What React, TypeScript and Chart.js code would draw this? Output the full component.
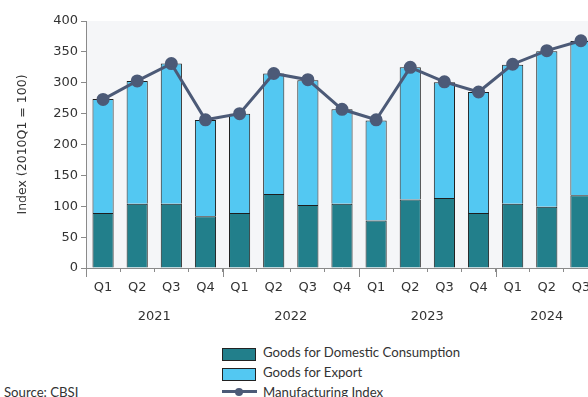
import React, { useEffect, useRef } from "react";
import { Chart, registerables } from "chart.js";

Chart.register(...registerables);

const quarters = ["Q1", "Q2", "Q3", "Q4", "Q1", "Q2", "Q3", "Q4", "Q1", "Q2", "Q3", "Q4", "Q1", "Q2", "Q3"];
const years = ["2021", "2022", "2023", "2024"];
const domestic = [89, 104, 104, 84, 89, 120, 102, 104, 77, 111, 113.5, 89, 104, 99, 118];
const exportGoods = [184.5, 199, 227, 155.5, 161, 195, 202, 153, 162, 214, 187.5, 196, 225, 252, 249.5];
const manufacturing = [273, 303, 331, 240, 250, 315, 305, 257, 240, 325, 301.5, 285, 330, 352, 368];
const yTicks = [0, 50, 100, 150, 200, 250, 300, 350, 400];

const C_DOM = "#227f8b";
const C_EXP = "#53c8f2";
const C_LINE = "#4c5a77";
const TXT = "#333333";
const AXIS = "#8a8a8a";
const FONT = "'DejaVu Sans', Verdana, sans-serif";
const LFONT = "Lato, 'Open Sans', sans-serif";

const decor = {
  id: "decor",
  beforeDraw(chart: any) {
    const { ctx, chartArea } = chart;
    ctx.save();
    ctx.fillStyle = "#f5f6f8";
    ctx.fillRect(chartArea.left, chartArea.top, chartArea.right - chartArea.left, chartArea.bottom - chartArea.top);
    ctx.restore();
  },
  afterDraw(chart: any) {
    const { ctx, chartArea } = chart;
    const xs = chart.scales.x;
    const n = quarters.length;
    const cw = (chartArea.right - chartArea.left) / n;
    ctx.save();
    ctx.fillStyle = TXT;
    ctx.font = "13px " + FONT;
    ctx.textAlign = "center";
    ctx.textBaseline = "middle";
    ctx.strokeStyle = AXIS;
    ctx.lineWidth = 1;
    years.forEach((y, g) => {
      const first = g * 4;
      const last = Math.min(g * 4 + 3, n - 1);
      const cx = (xs.getPixelForValue(first) + xs.getPixelForValue(last)) / 2;
      ctx.fillText(y, cx, 317);
      const bx = Math.round(xs.getPixelForValue(first) - cw / 2) + 0.5;
      ctx.beginPath();
      ctx.moveTo(bx, chartArea.bottom);
      ctx.lineTo(bx, chartArea.bottom + 9);
      ctx.stroke();
    });
    ctx.restore();
  },
};

export default function App() {
  const ref = useRef<HTMLCanvasElement>(null);
  useEffect(() => {
    const chart = new Chart(ref.current!, {
      type: "bar",
      data: {
        labels: quarters,
        datasets: [
          {
            type: "line",
            label: "Manufacturing Index",
            data: manufacturing,
            borderColor: C_LINE,
            backgroundColor: C_LINE,
            borderWidth: 3,
            pointRadius: 5,
            pointBackgroundColor: C_LINE,
            pointBorderColor: C_LINE,
            tension: 0,
            order: 0,
          } as any,
          {
            label: "Goods for Domestic Consumption",
            data: domestic,
            backgroundColor: C_DOM,
            borderColor: "#1e1e1e",
            borderWidth: 1,
            categoryPercentage: 0.62,
            barPercentage: 1,
            order: 1,
          },
          {
            label: "Goods for Export",
            data: exportGoods,
            backgroundColor: C_EXP,
            borderColor: "#1e1e1e",
            borderWidth: 1,
            categoryPercentage: 0.62,
            barPercentage: 1,
            order: 1,
          },
        ],
      },
      options: {
        responsive: false,
        animation: false,
        layout: { padding: { top: 21, right: 2, left: 0, bottom: 0 } },
        plugins: { legend: { display: false }, tooltip: { enabled: false } },
        scales: {
          x: {
            stacked: true,
            offset: true,
            grid: { offset: true, drawOnChartArea: false, drawTicks: true, tickLength: 4, color: AXIS },
            border: { color: AXIS },
            ticks: { color: TXT, font: { family: FONT, size: 13 }, padding: 8, maxRotation: 0, autoSkip: false },
            afterFit: (s: any) => {
              s.height = 72;
            },
          },
          y: {
            stacked: true,
            min: 0,
            max: 400,
            afterBuildTicks: (s: any) => {
              s.ticks = yTicks.map((v) => ({ value: v }));
            },
            grid: { drawOnChartArea: false, drawTicks: true, tickLength: 5, color: AXIS },
            border: { color: AXIS },
            ticks: { color: TXT, font: { family: FONT, size: 13 }, padding: 3 },
            title: {
              display: true,
              text: "Index (2010Q1 = 100)",
              color: TXT,
              font: { family: FONT, size: 12.5 },
              padding: { top: 15, bottom: 0 },
            },
            afterFit: (s: any) => {
              s.width = 86;
            },
          },
        },
      },
      plugins: [decor],
    });
    return () => chart.destroy();
  }, []);

  const textStyle: React.CSSProperties = {
    position: "absolute",
    font: "13.2px " + LFONT,
    lineHeight: "16px",
    color: TXT,
    whiteSpace: "nowrap",
  };

  return (
    <div style={{ position: "fixed", left: 0, top: 0, width: 588, height: 397, overflow: "hidden", background: "#fff" }}>
      <canvas ref={ref} width={606} height={340} style={{ position: "absolute", left: 0, top: 0, width: 606, height: 340 }} />
      <div style={{ position: "absolute", left: 222, top: 347.5, width: 32, height: 11, background: C_DOM, border: "1px solid #222" }} />
      <span style={{ ...textStyle, left: 263, top: 344 }}>Goods for Domestic Consumption</span>
      <div style={{ position: "absolute", left: 222, top: 367.5, width: 32, height: 11, background: C_EXP, border: "1px solid #222" }} />
      <span style={{ ...textStyle, left: 263, top: 364 }}>Goods for Export</span>
      <div style={{ position: "absolute", left: 222, top: 390, width: 35, height: 3, background: C_LINE }} />
      <div style={{ position: "absolute", left: 234.5, top: 387.5, width: 8, height: 8, borderRadius: 4, background: C_LINE }} />
      <span style={{ ...textStyle, left: 263, top: 384 }}>Manufacturing Index</span>
      <span style={{ ...textStyle, left: 4, top: 384 }}>Source: CBSI</span>
    </div>
  );
}
